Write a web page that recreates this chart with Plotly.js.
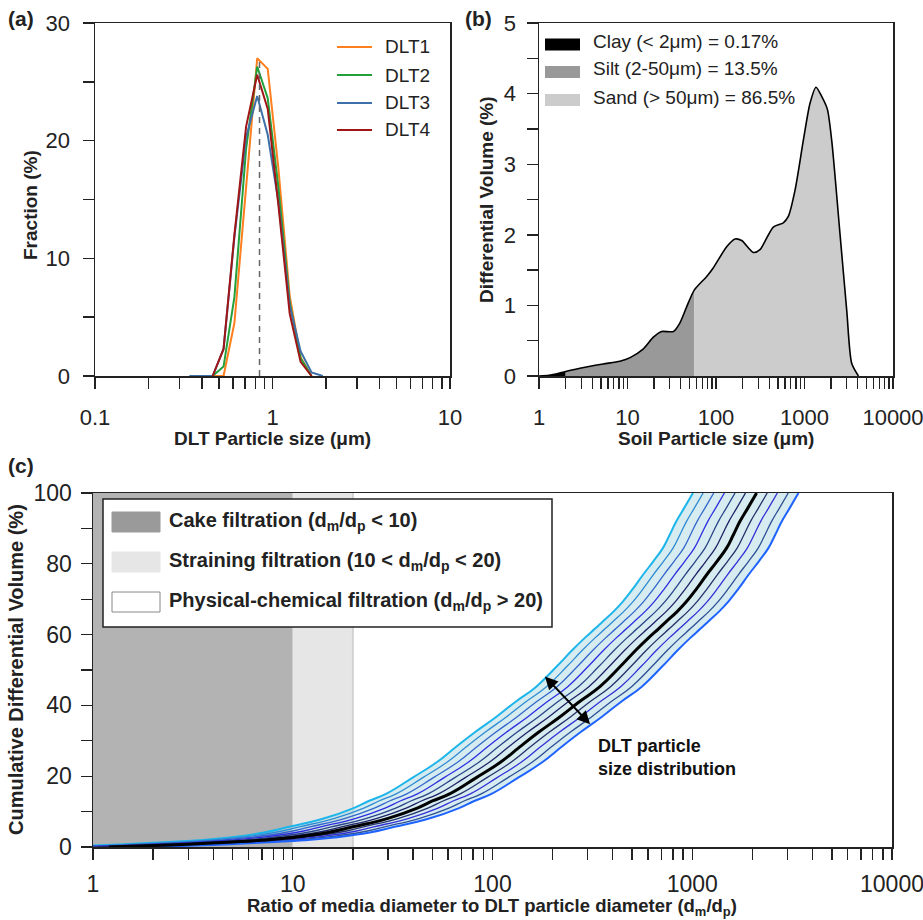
<!DOCTYPE html>
<html><head><meta charset="utf-8">
<script src="https://cdn.plot.ly/plotly-3.0.1.min.js"></script>
<style>html,body{margin:0;padding:0;background:#fff}</style>
</head><body><div id="chart" style="width:923px;height:920px"></div>
<script>
// ---------- Panel (a): DLT particle size distribution ----------
const dltSize = [0.34, 0.40, 0.46, 0.53, 0.61, 0.71, 0.82, 0.94, 1.08, 1.25, 1.44, 1.66, 1.92];
const dlt1 = [null, null, 0, 0, 4.5, 15.7, 27.0, 26.1, 17.6, 6.8, 1.6, 0, null];
const dlt2 = [null, null, 0, 0.8, 6.7, 19.3, 26.3, 23.6, 16.0, 6.3, 1.5, 0, null];
const dlt3 = [0, 0, 0, 2.3, 11.8, 20.3, 23.8, 20.5, 14.8, 6.0, 2.1, 0.3, 0];
const dlt4 = [null, null, 0, 2.3, 12.0, 21.2, 25.6, 22.7, 14.5, 5.3, 1.2, 0, null];
const dltNames = ['DLT1', 'DLT2', 'DLT3', 'DLT4'];
const medianSize = 0.845;
const medianTop = 26.9;

// ---------- Panel (b): soil particle size distribution ----------
const soilSize = [1.0, 1.3, 1.6, 2.0, 2.9, 5.3, 8.2, 10.7, 15, 19.6, 24.3, 33, 39, 46.6, 57, 78.5, 93, 132, 164, 195, 264, 314, 444, 576, 656, 781, 971, 1153, 1349, 1563, 1811, 2028, 2515, 3000, 3413, 4070];
const soilVol  = [0, 0.01, 0.03, 0.065, 0.11, 0.17, 0.21, 0.26, 0.38, 0.55, 0.63, 0.63, 0.75, 0.98, 1.22, 1.41, 1.53, 1.83, 1.94, 1.92, 1.75, 1.79, 2.11, 2.17, 2.26, 2.63, 3.34, 3.86, 4.09, 3.96, 3.78, 3.34, 2.02, 0.93, 0.18, 0];
const classNames = ['Clay (< 2\u03bcm) = 0.17%', 'Silt (2-50\u03bcm) = 13.5%', 'Sand (> 50\u03bcm) = 86.5%'];
const classBounds = [2, 57];

// ---------- Panel (c): cumulative ratio curves ----------
const ratioCenter = [1.2, 2, 3, 5, 7, 10, 15, 20, 30, 42, 50, 61, 83, 110, 137, 170, 218, 270, 345, 435, 520, 602, 680, 745, 840, 938, 1050, 1181, 1330, 1487, 1600, 1734, 1900, 2100];
const cumCenter   = [0, 0.4, 0.8, 1.4, 1.9, 2.7, 4.1, 5.7, 8.1, 11.0, 13.0, 15.0, 19.6, 24.0, 28.3, 32.4, 36.8, 40.9, 45.3, 50.9, 55.5, 59, 61.7, 63.8, 66.5, 69.4, 72.9, 76.9, 80.7, 84.5, 88, 92, 95.8, 100];
const curveShift  = [0.48, 0.54, 0.61, 0.69, 0.78, 0.88, 1.0, 1.13, 1.27, 1.44, 1.62];
const zoneNames = ['Cake filtration (d<sub>m</sub>/d<sub>p</sub> < 10)',
                   'Straining filtration (10 < d<sub>m</sub>/d<sub>p</sub> < 20)',
                   'Physical-chemical filtration (d<sub>m</sub>/d<sub>p</sub> > 20)'];
const zoneBounds = [1, 10, 20];

// ---------- styling ----------
const W = 923, H = 920;
const px = x => x / W, py = y => 1 - y / H;
const FONT = 'Liberation Sans, Arial, Helvetica, sans-serif';
const dltColors = ['#ff7f1e', '#22a03a', '#3d70a8', '#a01515'];
const classColors = ['#000000', '#999999', '#cccccc'];
const curveColors = ['#1db5ea', '#2e8bd3', '#3366cc', '#2e2ee0', '#2a4488', '#1e2266', '#000000', '#24306a', '#3131d6', '#2c4f96', '#1f63ff'];
const zoneColors = ['#b3b3b3', '#e6e6e6'];
const swatchColors = ['#9a9a9a', '#e6e6e6', '#ffffff'];
const SPL = {shape: 'spline', smoothing: 1.3};

const traces = [];
// (a)
[dlt1, dlt2, dlt3, dlt4].forEach((s, i) => {
  traces.push({x: dltSize, y: s, xaxis: 'x', yaxis: 'y', mode: 'lines', connectgaps: false,
    line: {color: dltColors[i], width: 2}, showlegend: false, hoverinfo: 'skip'});
});
traces.push({x: [medianSize, medianSize], y: [0, medianTop], xaxis: 'x', yaxis: 'y', mode: 'lines',
  line: {color: '#666', width: 1.5, dash: '6px,5px'}, showlegend: false, hoverinfo: 'skip'});

// (b) class fills
const segBounds = [soilSize[0], classBounds[0], classBounds[1], soilSize[soilSize.length - 1]];
for (let k = 0; k < 3; k++) {
  const xs = [], ys = [];
  soilSize.forEach((s, i) => { if (s >= segBounds[k] && s <= segBounds[k + 1]) { xs.push(s); ys.push(soilVol[i]); } });
  traces.push({x: xs, y: ys, xaxis: 'x2', yaxis: 'y2', mode: 'lines', fill: 'tozeroy',
    fillcolor: classColors[k], line: {width: 0, color: classColors[k], shape: 'spline', smoothing: 0.7},
    showlegend: false, hoverinfo: 'skip'});
}
traces.push({x: soilSize, y: soilVol, xaxis: 'x2', yaxis: 'y2', mode: 'lines',
  line: {color: '#000', width: 1.6, shape: 'spline', smoothing: 0.7}, showlegend: false, hoverinfo: 'skip'});

// (c) zones
for (let k = 0; k < 2; k++) {
  traces.push({x: [zoneBounds[k], zoneBounds[k + 1], zoneBounds[k + 1], zoneBounds[k]], y: [0, 0, 100, 100],
    xaxis: 'x3', yaxis: 'y3', mode: 'lines', fill: 'toself', fillcolor: zoneColors[k],
    line: {width: 0}, showlegend: false, hoverinfo: 'skip'});
}
traces.push({x: [zoneBounds[2], zoneBounds[2]], y: [0, 100], xaxis: 'x3', yaxis: 'y3', mode: 'lines',
  line: {color: '#d2d2d2', width: 2}, showlegend: false, hoverinfo: 'skip'});
// band fill
const shifted = curveShift.map(f => ratioCenter.map(r => r * f));
traces.push({x: shifted[0], y: cumCenter, xaxis: 'x3', yaxis: 'y3', mode: 'lines',
  line: Object.assign({width: 0}, SPL), showlegend: false, hoverinfo: 'skip'});
traces.push({x: shifted[shifted.length - 1], y: cumCenter, xaxis: 'x3', yaxis: 'y3', mode: 'lines', fill: 'tonexty',
  fillcolor: 'rgba(180,220,228,0.55)', line: Object.assign({width: 0}, SPL), showlegend: false, hoverinfo: 'skip'});
shifted.forEach((xs, i) => {
  if (curveShift[i] === 1) return;
  const outer = (i === 0 || i === shifted.length - 1);
  traces.push({x: xs, y: cumCenter, xaxis: 'x3', yaxis: 'y3', mode: 'lines',
    line: Object.assign({color: curveColors[i], width: outer ? 2 : 1.3}, SPL), showlegend: false, hoverinfo: 'skip'});
});
traces.push({x: shifted[curveShift.indexOf(1)], y: cumCenter, xaxis: 'x3', yaxis: 'y3', mode: 'lines',
  line: Object.assign({color: '#000', width: 3}, SPL), showlegend: false, hoverinfo: 'skip'});

// ---------- axes ----------
function logTicks(d0, d1) {
  const v = [], t = [];
  for (let e = d0; e <= d1; e++) {
    for (let m = 1; m <= 9; m++) {
      if (e === d1 && m > 1) break;
      const val = +(m * Math.pow(10, e)).toPrecision(3);
      v.push(val); t.push(m === 1 ? String(val) : '');
    }
  }
  return {v, t};
}
function linTicks(max, step, labelStep) {
  const v = [], t = [];
  for (let x = 0; x <= max + 1e-9; x += step) {
    const r = +x.toFixed(2); v.push(r);
    t.push(Math.abs(r / labelStep - Math.round(r / labelStep)) < 1e-6 ? String(r) : '');
  }
  return {v, t};
}
const tickFontAB = {family: FONT, size: 22, color: '#222'};
const tickFontC = {family: FONT, size: 23, color: '#222'};
const baseAxis = {showgrid: false, zeroline: false, showline: true, mirror: true, linecolor: '#222', linewidth: 1.5,
  ticks: 'outside', ticklen: 11, tickwidth: 1.4, tickcolor: '#222', fixedrange: true};
const lt1 = logTicks(-1, 1), lt4 = logTicks(0, 4);
const ya = linTicks(30, 5, 10), yb = linTicks(5, 0.5, 1), yc = linTicks(100, 10, 20);

const layout = {
  width: W, height: H, margin: {l: 0, r: 0, t: 0, b: 0}, paper_bgcolor: '#fff', plot_bgcolor: 'rgba(0,0,0,0)',
  showlegend: false, font: {family: FONT, color: '#222'},
  xaxis: Object.assign({}, baseAxis, {type: 'log', range: [-1, 1], domain: [px(95), px(450)], anchor: 'y',
    tickmode: 'array', tickvals: lt1.v, ticktext: lt1.t, ticklabelstandoff: 10, tickfont: tickFontAB, ticklabeloverflow: 'allow'}),
  yaxis: Object.assign({}, baseAxis, {range: [0, 30], domain: [py(376), py(23)], anchor: 'x',
    tickmode: 'array', tickvals: ya.v, ticktext: ya.t, ticklabelstandoff: 8, tickfont: tickFontAB}),
  xaxis2: Object.assign({}, baseAxis, {type: 'log', range: [0, 4], domain: [px(539), px(893)], anchor: 'y2',
    tickmode: 'array', tickvals: lt4.v, ticktext: lt4.t, ticklabelstandoff: 10, tickfont: tickFontAB, ticklabeloverflow: 'allow'}),
  yaxis2: Object.assign({}, baseAxis, {range: [0, 5], domain: [py(376), py(23)], anchor: 'x2',
    tickmode: 'array', tickvals: yb.v, ticktext: yb.t, ticklabelstandoff: 6, tickfont: tickFontAB}),
  xaxis3: Object.assign({}, baseAxis, {type: 'log', range: [0, 4], domain: [px(93), px(892)], anchor: 'y3',
    tickmode: 'array', tickvals: lt4.v, ticktext: lt4.t, ticklabelstandoff: 5, tickfont: tickFontC, ticklabeloverflow: 'allow'}),
  yaxis3: Object.assign({}, baseAxis, {range: [0, 100], domain: [py(847), py(493)], anchor: 'x3',
    tickmode: 'array', tickvals: yc.v, ticktext: yc.t, ticklabelstandoff: 4, tickfont: tickFontC}),
  shapes: [], annotations: []
};

const bold = (t) => '<b>' + t + '</b>';
function ann(text, x, y, opts) {
  layout.annotations.push(Object.assign({text, xref: 'paper', yref: 'paper', x: px(x), y: py(y), showarrow: false,
    xanchor: 'left', yanchor: 'middle', font: {family: FONT, size: 19, color: '#222'}}, opts || {}));
}
const f = (s) => ({family: FONT, size: s, color: '#222'});
// panel labels
ann(bold('(a)'), 6, 18, {font: f(21)}); ann(bold('(b)'), 463, 18, {font: f(21)}); ann(bold('(c)'), 6, 465, {font: f(21)});
// axis titles
ann(bold('DLT Particle size (\u03bcm)'), 272, 438, {xanchor: 'center'});
ann(bold('Soil Particle size (\u03bcm)'), 716, 438, {xanchor: 'center'});
ann(bold('Ratio of media diameter to DLT particle diameter (d<sub>m</sub>/d<sub>p</sub>)'), 492, 907, {xanchor: 'center', font: f(18.5)});
ann(bold('Fraction (%)'), 30, 205, {xanchor: 'center', textangle: -90});
ann(bold('Differential Volume (%)'), 487, 200, {xanchor: 'center', textangle: -90});
ann(bold('Cumulative Differential Volume (%)'), 16, 670, {xanchor: 'center', textangle: -90, font: f(20)});

// legend (a)
const legAy = [47, 75, 103, 130];
dltNames.forEach((n, i) => {
  layout.shapes.push({type: 'line', xref: 'paper', yref: 'paper', x0: px(337), x1: px(372), y0: py(legAy[i]), y1: py(legAy[i]),
    line: {color: dltColors[i], width: 2}});
  ann(n, 383, legAy[i]);
});
// legend (b)
const legBy = [44.5, 72, 100];
classNames.forEach((n, i) => {
  layout.shapes.push({type: 'rect', xref: 'paper', yref: 'paper', x0: px(545), x1: px(580), y0: py(legBy[i] - 6), y1: py(legBy[i] + 6),
    fillcolor: classColors[i], line: {width: 0}});
  ann(n, 591, legBy[i] - 3);
});
// legend (c)
layout.shapes.push({type: 'rect', xref: 'paper', yref: 'paper', x0: px(103), x1: px(552), y0: py(499), y1: py(627),
  fillcolor: '#fff', line: {color: '#222', width: 1.5}});
const legCy = [522, 562, 602];
zoneNames.forEach((n, i) => {
  layout.shapes.push({type: 'rect', xref: 'paper', yref: 'paper', x0: px(112), x1: px(160), y0: py(legCy[i] - 10), y1: py(legCy[i] + 10),
    fillcolor: swatchColors[i], line: {color: i === 2 ? '#888' : swatchColors[i], width: 1}});
  ann(bold(n), 167, legCy[i] - 1, {font: f(20)});
});
// arrow + text in (c)
layout.annotations.push({xref: 'x3', yref: 'y3', axref: 'x3', ayref: 'y3',
  x: Math.log10(308), y: 34.7, ax: Math.log10(180), ay: 48.6, text: '', showarrow: true,
  arrowhead: 2, startarrowhead: 2, arrowside: 'end+start', arrowsize: 1.3, startarrowsize: 1.3, arrowwidth: 2, arrowcolor: '#000'});
ann(bold('DLT particle<br>size distribution'), 596, 757, {align: 'left', font: {family: FONT, size: 18, color: '#111'}});

Plotly.newPlot('chart', traces, layout, {staticPlot: true});
</script></body></html>
